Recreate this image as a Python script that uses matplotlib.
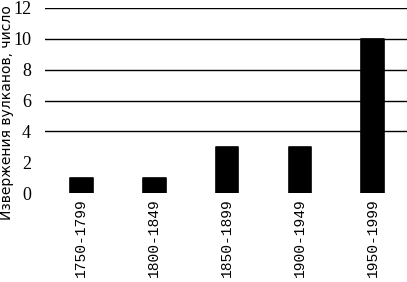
import matplotlib
matplotlib.use("Agg")
import matplotlib.pyplot as plt

categories = ["1750-1799", "1800-1849", "1850-1899", "1900-1949", "1950-1999"]
values = [1, 1, 3, 3, 10]
yticks = [0, 2, 4, 6, 8, 10, 12]
grid_values = [4, 6, 8, 10, 12]
ylabel = "Извержения вулканов, число"

W, H = 407, 282
fig = plt.figure(figsize=(W / 100, H / 100), dpi=100)
left, right, top, bottom = 45, 407, 8, 193
ax = fig.add_axes([left / W, 1 - bottom / H, (right - left) / W, (bottom - top) / H])

x = list(range(len(categories)))
bars = ax.bar(x, values, width=0.31, color="black", edgecolor="black", linewidth=1.2, zorder=3)
for b in bars:
    b.set_joinstyle("round")

for g in grid_values:
    ax.axhline(g, color="black", linewidth=1.0, zorder=1)

ax.set_xlim(-0.5, 4.47)
ax.set_ylim(0, 12)
ax.set_yticks(yticks)
ax.set_yticklabels([str(v) for v in yticks], family="Liberation Serif", fontsize=13)
ax.set_xticks(x)
ax.set_xticklabels(categories, rotation=90, family="Liberation Mono", fontsize=10.5)
ax.tick_params(axis="both", length=0)
ax.tick_params(axis="y", pad=10)
ax.tick_params(axis="x", pad=4)
for s in ax.spines.values():
    s.set_visible(False)

fig.text(0 / W, 1 - 113 / H, ylabel, rotation=90, va="center", ha="left",
         family="DejaVu Sans", fontsize=10)

fig.savefig("out.png", dpi=100)
